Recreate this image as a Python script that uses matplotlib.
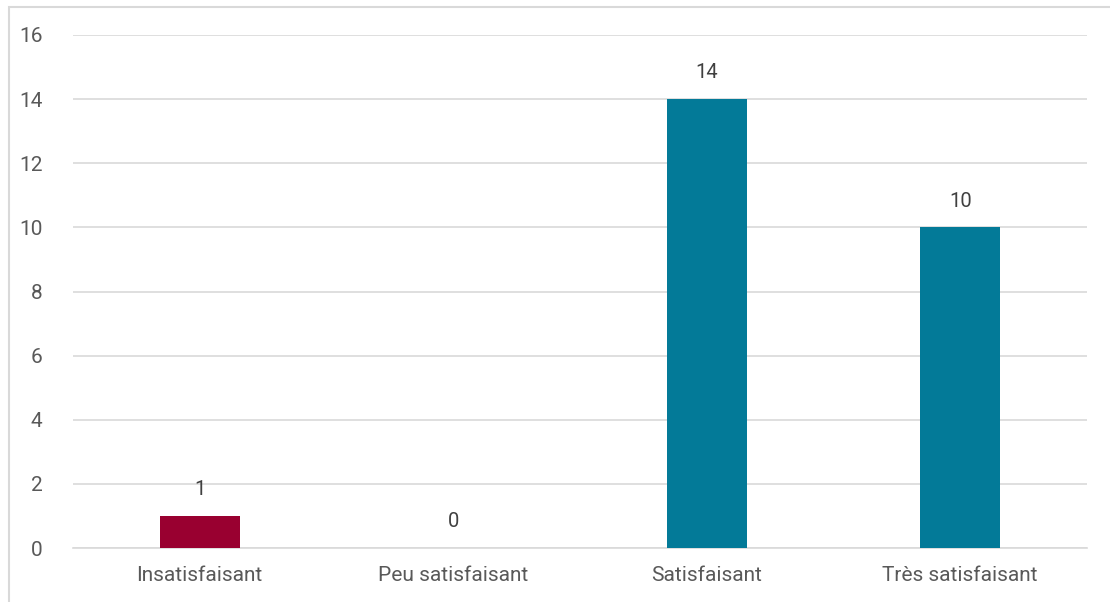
import matplotlib.pyplot as plt
from matplotlib.patches import Rectangle

categories = ['Insatisfaisant', 'Peu satisfaisant', 'Satisfaisant', 'Très satisfaisant']
counts = [1, 0, 14, 10]
bar_colors = ['#990030', '#037A98', '#037A98', '#037A98']

plt.rcParams['font.family'] = ['Roboto', 'DejaVu Sans']

fig = plt.figure(figsize=(11.1, 6.02), dpi=100)
W, H = 1110, 602
ax = fig.add_axes([73 / W, 1 - 548 / H, (1087 - 73) / W, (548 - 35) / H])

# light frame of the chart area (cropped on right/bottom)
fig.patches.append(Rectangle((9 / W, -0.1), 1.2, 1 - 7 / H + 0.1,
                             transform=fig.transFigure, fill=False,
                             edgecolor='#d9d9d9', linewidth=1.5))

x = range(len(categories))
bars = ax.bar(x, counts, width=0.316, color=bar_colors, zorder=3)

for xi, v in zip(x, counts):
    ax.annotate(str(v), (xi, v), xytext=(0, 12), textcoords='offset points',
                ha='center', va='bottom', fontsize=14.5, color='#404040')

ax.set_xlim(-0.5, 3.5)
ax.set_ylim(0, 16)
ax.set_yticks(range(0, 17, 2))
ax.set_xticks(list(x))
ax.set_xticklabels(categories)
ax.grid(axis='y', color='#d9d9d9', linewidth=1.2, zorder=0)
ax.tick_params(axis='both', length=0, labelsize=15, colors='#595959')
ax.tick_params(axis='y', pad=22)
ax.tick_params(axis='x', pad=13)
for s in ['top', 'right', 'left']:
    ax.spines[s].set_visible(False)
ax.spines['bottom'].set_color('#d9d9d9')
ax.spines['bottom'].set_linewidth(1.2)

fig.savefig('out.png', dpi=100)
